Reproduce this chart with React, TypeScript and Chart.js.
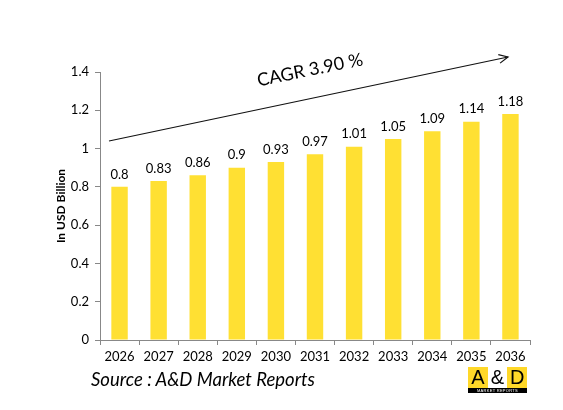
import { useEffect, useRef } from 'react';
import { Chart, registerables } from 'chart.js';

Chart.register(...registerables);

const years = ['2026', '2027', '2028', '2029', '2030', '2031', '2032', '2033', '2034', '2035', '2036'];
const values = [0.8, 0.83, 0.86, 0.9, 0.93, 0.97, 1.01, 1.05, 1.09, 1.14, 1.18];
const cagrLabel = 'CAGR 3.90 %';
const FONT = 'Lato, "Open Sans", sans-serif';

// value labels above the bars + CAGR arrow
const extras = {
  id: 'extras',
  afterDatasetsDraw(chart: any) {
    const { ctx } = chart;
    const meta = chart.getDatasetMeta(0);
    ctx.save();
    ctx.font = `13px ${FONT}`;
    ctx.fillStyle = '#000';
    ctx.textAlign = 'center';
    ctx.textBaseline = 'bottom';
    meta.data.forEach((bar: any, i: number) => ctx.fillText(String(values[i]), bar.x, bar.y - 6));

    const x0 = 109, y0 = 141, x1 = 508, y1 = 57;
    ctx.strokeStyle = '#111';
    ctx.lineWidth = 1.2;
    ctx.beginPath(); ctx.moveTo(x0, y0); ctx.lineTo(x1, y1); ctx.stroke();
    const a = Math.atan2(y1 - y0, x1 - x0);
    ctx.beginPath();
    ctx.moveTo(x1 - 10 * Math.cos(a - 0.45), y1 - 10 * Math.sin(a - 0.45));
    ctx.lineTo(x1, y1);
    ctx.lineTo(x1 - 10 * Math.cos(a + 0.45), y1 - 10 * Math.sin(a + 0.45));
    ctx.stroke();

    ctx.translate(310, 70);
    ctx.rotate(-0.2);
    ctx.font = `18px ${FONT}`;
    ctx.textBaseline = 'middle';
    ctx.fillText(cagrLabel, 0, 0);
    ctx.restore();
  }
};

export default function App() {
  const ref = useRef<HTMLCanvasElement>(null);

  useEffect(() => {
    if (!ref.current) return;
    const chart = new Chart(ref.current, {
      type: 'bar',
      data: { labels: years, datasets: [{ data: values, backgroundColor: '#FFE033', barPercentage: 0.42, categoryPercentage: 1 }] },
      options: {
        animation: false, responsive: true, maintainAspectRatio: false,
        layout: { padding: { left: 54, right: 33, top: 72, bottom: 42 } },
        plugins: { legend: { display: false }, tooltip: { enabled: false } },
        scales: {
          x: {
            grid: { display: true, drawOnChartArea: false, tickLength: 5, color: '#888', offset: true },
            border: { color: '#888' },
            ticks: { color: '#000', font: { family: FONT, size: 13 }, padding: 4, maxRotation: 0 },
            afterFit: (s: any) => { s.height = 28; }
          },
          y: {
            min: 0, max: 1.4,
            grid: { display: true, drawOnChartArea: false, tickLength: 5, color: '#888' },
            border: { color: '#888' },
            ticks: { stepSize: 0.2, color: '#000', font: { family: FONT, size: 13 }, padding: 6, callback: (v: any) => String(Math.round(v * 10) / 10) },
            title: { display: true, text: 'In USD Billion', color: '#000', font: { family: FONT, size: 12, weight: 'bold' }, padding: { top: 0, bottom: 0 } },
            afterFit: (s: any) => { s.width = 46; }
          }
        }
      },
      plugins: [extras]
    });
    return () => chart.destroy();
  }, []);

  return (
    <div style={{ position: 'fixed', left: 0, top: 0, width: 563, height: 410, background: '#fff' }}>
      <canvas ref={ref} />
      <div style={{ position: 'absolute', left: 91, top: 368, fontFamily: FONT, fontStyle: 'italic', fontSize: 18.5, color: '#000' }}>
        Source : A&amp;D Market Reports
      </div>
      <div style={{ position: 'absolute', left: 468, top: 367, width: 59, fontFamily: 'Arial, "Liberation Sans", sans-serif' }}>
        <div style={{ display: 'flex', height: 21, fontSize: 20, lineHeight: '21px', textAlign: 'center', color: '#000' }}>
          <div style={{ flex: 1, background: '#FFD829' }}>A</div>
          <div style={{ flex: 1, background: '#fff' }}>&amp;</div>
          <div style={{ flex: 1, background: '#FFD829' }}>D</div>
        </div>
        <div style={{ background: '#000', color: '#fff', fontSize: 4, lineHeight: '5px', textAlign: 'center', letterSpacing: 0.3 }}>MARKET REPORTS</div>
      </div>
    </div>
  );
}
